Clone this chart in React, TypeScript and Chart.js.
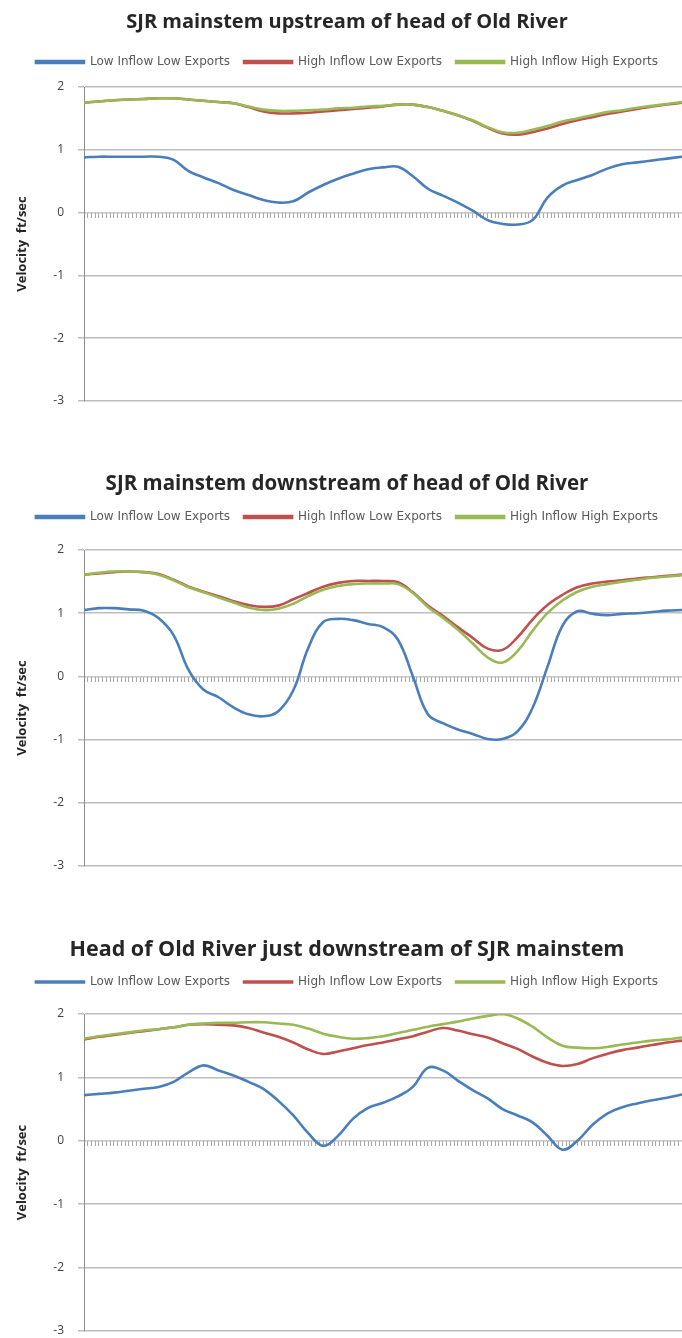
import React, { useEffect, useRef } from 'react';
import { Chart, registerables } from 'chart.js';

Chart.register(...registerables);

// x positions: time steps across the tidal cycle (no labels shown on the axis)
const TIME_STEPS = [0, 1, 2, 3, 4, 5, 6, 7, 8, 9, 10, 11, 12, 13, 14, 15, 16, 17, 18, 19, 20,
  21, 22, 23, 24, 25, 26, 27, 28, 29, 30, 31, 32, 33, 34, 35, 36, 37, 38, 39, 40];

const SERIES_NAMES = ['Low Inflow Low Exports', 'High Inflow Low Exports', 'High Inflow High Exports'];
const Y_TICKS = [2, 1, 0, -1, -2, -3];
const Y_AXIS_TITLE = 'Velocity  ft/sec';

// Chart 1: SJR mainstem upstream of head of Old River
const UP_LOW_LOW = [0.88, 0.89, 0.89, 0.89, 0.89, 0.89, 0.84, 0.66, 0.56, 0.47, 0.36, 0.28, 0.20, 0.16, 0.18, 0.32, 0.44, 0.54, 0.62, 0.69, 0.72,
  0.73, 0.58, 0.38, 0.27, 0.16, 0.03, -0.12, -0.18, -0.19, -0.12, 0.24, 0.43, 0.52, 0.60, 0.70, 0.77, 0.80, 0.83, 0.86, 0.89];
const UP_HIGH_LOW = [1.75, 1.77, 1.79, 1.80, 1.81, 1.82, 1.82, 1.80, 1.78, 1.76, 1.74, 1.68, 1.61, 1.58, 1.58, 1.59, 1.61, 1.63, 1.65, 1.67, 1.69,
  1.72, 1.72, 1.68, 1.62, 1.55, 1.46, 1.35, 1.26, 1.24, 1.28, 1.34, 1.41, 1.47, 1.52, 1.57, 1.61, 1.65, 1.69, 1.72, 1.75];
const UP_HIGH_HIGH = [1.75, 1.77, 1.79, 1.80, 1.81, 1.82, 1.82, 1.80, 1.78, 1.76, 1.74, 1.69, 1.64, 1.62, 1.62, 1.63, 1.64, 1.66, 1.67, 1.69, 1.70,
  1.72, 1.72, 1.68, 1.62, 1.55, 1.47, 1.36, 1.28, 1.27, 1.32, 1.38, 1.45, 1.50, 1.55, 1.60, 1.63, 1.67, 1.70, 1.73, 1.76];

// Chart 2: SJR mainstem downstream of head of Old River
const DOWN_LOW_LOW = [1.05, 1.08, 1.08, 1.06, 1.04, 0.92, 0.65, 0.10, -0.21, -0.33, -0.49, -0.60, -0.63, -0.55, -0.22, 0.45, 0.86, 0.91, 0.89, 0.83, 0.78,
  0.58, 0.00, -0.60, -0.74, -0.84, -0.91, -0.99, -0.99, -0.87, -0.50, 0.15, 0.80, 1.03, 0.99, 0.97, 0.99, 1.00, 1.02, 1.04, 1.05];
const DOWN_HIGH_LOW = [1.61, 1.63, 1.65, 1.66, 1.65, 1.62, 1.53, 1.42, 1.34, 1.27, 1.19, 1.13, 1.10, 1.12, 1.22, 1.32, 1.42, 1.48, 1.51, 1.51, 1.51,
  1.49, 1.33, 1.12, 0.96, 0.78, 0.61, 0.44, 0.42, 0.62, 0.90, 1.13, 1.29, 1.41, 1.47, 1.50, 1.52, 1.55, 1.57, 1.59, 1.61];
const DOWN_HIGH_HIGH = [1.61, 1.64, 1.66, 1.66, 1.65, 1.61, 1.52, 1.41, 1.33, 1.25, 1.17, 1.09, 1.05, 1.07, 1.15, 1.27, 1.37, 1.43, 1.46, 1.47, 1.47,
  1.46, 1.32, 1.10, 0.93, 0.74, 0.52, 0.30, 0.22, 0.40, 0.72, 1.00, 1.20, 1.34, 1.42, 1.46, 1.50, 1.53, 1.56, 1.58, 1.60];

// Chart 3: Head of Old River just downstream of SJR mainstem
const HOR_LOW_LOW = [0.72, 0.74, 0.76, 0.79, 0.82, 0.85, 0.93, 1.08, 1.19, 1.11, 1.03, 0.93, 0.82, 0.63, 0.40, 0.12, -0.08, 0.08, 0.35, 0.52, 0.60,
  0.70, 0.85, 1.15, 1.11, 0.95, 0.80, 0.67, 0.50, 0.40, 0.29, 0.08, -0.14, 0.00, 0.25, 0.43, 0.53, 0.59, 0.64, 0.68, 0.73];
const HOR_HIGH_LOW = [1.60, 1.64, 1.67, 1.70, 1.73, 1.76, 1.79, 1.83, 1.84, 1.83, 1.82, 1.78, 1.71, 1.64, 1.55, 1.44, 1.37, 1.41, 1.46, 1.51, 1.55,
  1.60, 1.65, 1.72, 1.78, 1.74, 1.68, 1.63, 1.54, 1.45, 1.33, 1.23, 1.18, 1.21, 1.30, 1.37, 1.43, 1.47, 1.51, 1.55, 1.58];
const HOR_HIGH_HIGH = [1.61, 1.65, 1.68, 1.71, 1.74, 1.76, 1.79, 1.83, 1.85, 1.86, 1.86, 1.87, 1.87, 1.85, 1.83, 1.77, 1.69, 1.64, 1.61, 1.62, 1.65,
  1.70, 1.75, 1.80, 1.84, 1.88, 1.93, 1.97, 2.00, 1.93, 1.80, 1.63, 1.50, 1.47, 1.46, 1.48, 1.52, 1.55, 1.58, 1.60, 1.63];

const COLORS = ['#4a7ebb', '#c0504d', '#98b954'];

type Panel = {
  title: string;
  series: number[][];
  top: number;
  height: number;
  titleSize: number;
  titleY: number;
  legendY: number;
  areaTop: number;
  areaBottom: number;
  legendBox: number;
};

const PANELS: Panel[] = [
  { title: 'SJR mainstem upstream of head of Old River', series: [UP_LOW_LOW, UP_HIGH_LOW, UP_HIGH_HIGH],
    top: 0, height: 440, titleSize: 20, titleY: 22, legendY: 62, areaTop: 87, areaBottom: 400, legendBox: 2 },
  { title: 'SJR mainstem downstream of head of Old River', series: [DOWN_LOW_LOW, DOWN_HIGH_LOW, DOWN_HIGH_HIGH],
    top: 460, height: 440, titleSize: 20.5, titleY: 24, legendY: 57, areaTop: 90, areaBottom: 405, legendBox: 2 },
  { title: 'Head of Old River just downstream of SJR mainstem', series: [HOR_LOW_LOW, HOR_HIGH_LOW, HOR_HIGH_HIGH],
    top: 925, height: 440, titleSize: 21.5, titleY: 25, legendY: 57, areaTop: 89, areaBottom: 405, legendBox: 1 },
];

const LEFT_PAD = 12;
const AXIS_X = 84;
const LEGEND_FONT = 12;
const LEGEND_PAD = 14;
const LAYOUT_EXTRA = 1;

const legendGap = {
  id: 'legendGap',
  beforeInit(chart: any, _args: any, opts: any) {
    const legend = chart.legend;
    if (!legend) return;
    const fit = legend.fit;
    legend.fit = function () {
      fit.call(this);
      this.height += opts.gap || 0;
    };
  },
};

function PanelChart({ p }: { p: Panel }) {
  const ref = useRef<HTMLCanvasElement | null>(null);
  useEffect(() => {
    if (!ref.current) return;
    const lh = p.titleSize * 1.2;
    const titleTop = p.titleY - lh / 2;
    const legendTop = p.legendY - LEGEND_PAD - LEGEND_FONT / 2;
    const titleBottom = legendTop - titleTop - lh;
    const gap = p.areaTop - legendTop - (LEGEND_FONT + LEGEND_PAD + 10);
    const chart = new Chart(ref.current, {
      type: 'line',
      data: {
        labels: TIME_STEPS,
        datasets: p.series.map((s, i) => ({
          label: SERIES_NAMES[i],
          data: s,
          borderColor: COLORS[i],
          backgroundColor: COLORS[i],
          borderWidth: 2.6,
          pointRadius: 0,
          tension: 0.4,
          fill: false,
          order: 2 - i,
        })),
      },
      options: {
        responsive: false,
        animation: false,
        devicePixelRatio: 1,
        layout: { padding: { left: LEFT_PAD, right: 0, top: 0, bottom: p.height - p.areaBottom - LAYOUT_EXTRA } },
        plugins: {
          title: {
            display: true,
            text: p.title,
            color: '#262626',
            font: { family: 'Open Sans', size: p.titleSize, weight: 'bold', lineHeight: 1.2 },
            padding: { top: titleTop, bottom: titleBottom },
          },
          legend: {
            display: true,
            position: 'top',
            labels: {
              boxWidth: 48,
              boxHeight: p.legendBox,
              padding: LEGEND_PAD,
              color: '#595959',
              font: { family: 'DejaVu Sans', size: LEGEND_FONT },
              sort: (a: any, b: any) => a.datasetIndex - b.datasetIndex,
            },
          },
          legendGap: { gap },
          tooltip: { enabled: false },
        } as any,
        scales: {
          x: {
            type: 'linear',
            axis: 'x',
            min: TIME_STEPS[0],
            max: TIME_STEPS[TIME_STEPS.length - 1],
            position: { y: 0 } as any,
            ticks: { display: false, stepSize: 0.25 },
            grid: { drawOnChartArea: false, drawTicks: true, tickLength: 5, color: '#a6a6a6', lineWidth: 1 },
            border: { display: true, color: '#c8c8c8', width: 1 },
          },
          y: {
            type: 'linear',
            min: Y_TICKS[Y_TICKS.length - 1],
            max: Y_TICKS[0],
            afterFit: (scale: any) => { scale.width = AXIS_X - LEFT_PAD; },
            afterBuildTicks: (scale: any) => { scale.ticks = Y_TICKS.slice().reverse().map((v) => ({ value: v })); },
            ticks: {
              stepSize: 1,
              padding: 14,
              color: '#404040',
              font: { family: 'Open Sans', size: 12 },
            },
            grid: { color: '#bdbdbd', lineWidth: 1.5, drawTicks: true, tickLength: 6 },
            border: { display: true, color: '#8c8c8c', width: 1 },
            title: {
              display: true,
              text: Y_AXIS_TITLE,
              color: '#262626',
              font: { family: 'Open Sans', size: 13, weight: 'bold' },
              padding: { top: 2, bottom: 0 },
            },
          },
        },
      } as any,
      plugins: [legendGap as any],
    });
    return () => chart.destroy();
  }, [p]);
  return (
    <div style={{ position: 'absolute', left: 0, top: p.top, width: 682, height: p.height }}>
      <canvas ref={ref} width={682} height={p.height} style={{ display: 'block' }} />
    </div>
  );
}

export default function App() {
  return (
    <div style={{ position: 'absolute', left: 0, top: 0, width: 682, height: 1338, overflow: 'hidden', background: '#ffffff' }}>
      {PANELS.map((p, i) => (
        <PanelChart key={i} p={p} />
      ))}
    </div>
  );
}
